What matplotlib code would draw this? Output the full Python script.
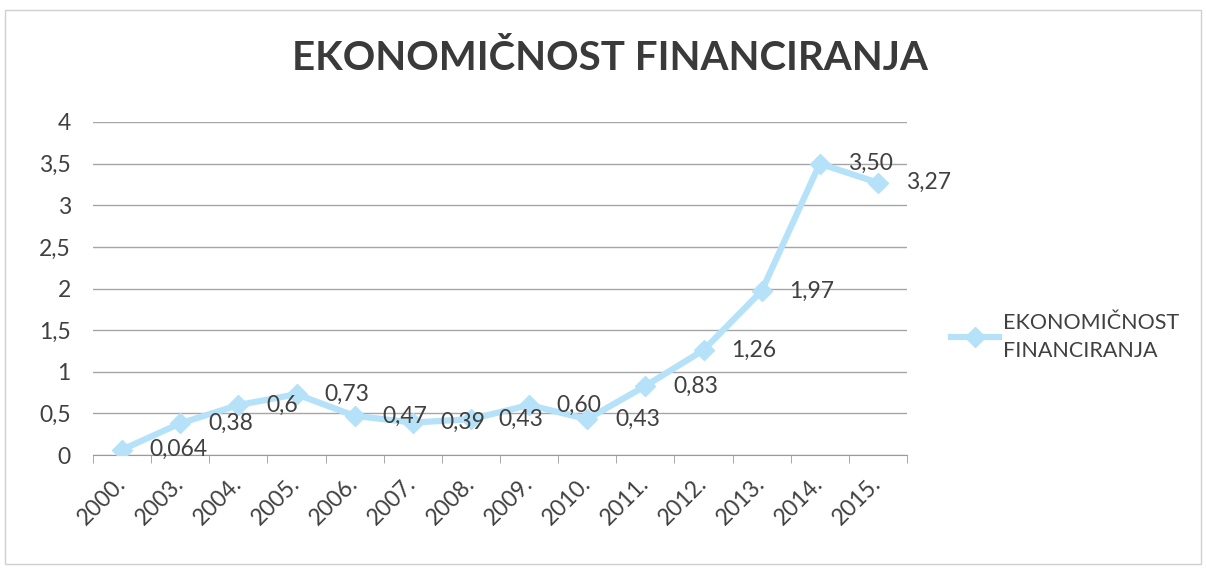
import matplotlib
matplotlib.use("Agg")
import matplotlib.pyplot as plt
from matplotlib.patches import Rectangle

# data
years = ['2000.', '2003.', '2004.', '2005.', '2006.', '2007.', '2008.',
         '2009.', '2010.', '2011.', '2012.', '2013.', '2014.', '2015.']
values = [0.064, 0.38, 0.6, 0.73, 0.47, 0.39, 0.43,
          0.60, 0.43, 0.83, 1.26, 1.97, 3.50, 3.27]
value_labels = ['0,064', '0,38', '0,6', '0,73', '0,47', '0,39', '0,43',
                '0,60', '0,43', '0,83', '1,26', '1,97', '3,50', '3,27']
y_ticks = [0, 0.5, 1, 1.5, 2, 2.5, 3, 3.5, 4]
y_tick_labels = ['0', '0,5', '1', '1,5', '2', '2,5', '3', '3,5', '4']
series_name = 'EKONOMIČNOST\nFINANCIRANJA'
title = 'EKONOMIČNOST FINANCIRANJA'

plt.rcParams['font.family'] = ['Lato', 'DejaVu Sans']
text_col = '#404040'
line_col = '#b5e2f8'

fig = plt.figure(figsize=(12.06, 5.70), dpi=100)
ax = fig.add_axes([93 / 1206, 1 - 455 / 570, (907 - 93) / 1206, (455 - 122) / 570])

x = list(range(len(years)))
ax.plot(x, values, color=line_col, lw=4.5, marker='D', ms=10,
        mec=line_col, mfc=line_col, label=series_name, zorder=3)

for xi, v, lab in zip(x, values, value_labels):
    ax.annotate(lab, (xi, v), xytext=(20, 0), textcoords='offset points',
                ha='left', va='center', fontsize=16.5, color=text_col, zorder=4)

ax.set_xlim(-0.5, len(years) - 0.5)
ax.set_ylim(0, 4)
ax.set_yticks(y_ticks)
ax.set_yticklabels(y_tick_labels, fontsize=16.5, color=text_col)
ax.set_xticks(x)
ax.set_xticklabels(years, fontsize=16.5, color=text_col, rotation=45,
                   ha='right', va='center', rotation_mode='anchor')
ax.tick_params(axis='x', which='major', length=0, pad=18)
ax.set_xticks([i - 0.5 for i in range(len(years) + 1)], minor=True)
ax.tick_params(axis='x', which='minor', length=6, color='#9a9a9a')
ax.tick_params(axis='y', length=0, pad=16)

ax.grid(axis='y', color='#a6a6a6', lw=1)
ax.set_axisbelow(True)
for s in ['top', 'right', 'left']:
    ax.spines[s].set_visible(False)
ax.spines['bottom'].set_color('#9a9a9a')

fig.text(0.506, 1 - 58 / 570, title, ha='center', va='center',
         fontsize=29, fontweight='bold', color='#3a3a3a')

leg = fig.legend(loc='center left', bbox_to_anchor=(932 / 1206, 1 - 337 / 570),
                 frameon=False, fontsize=15.5, handlelength=2.2, handletextpad=0.2,
                 labelcolor=text_col)
for t in leg.get_texts():
    t.set_linespacing(1.45)

# chart border
fig.patches.append(Rectangle((5 / 1206, 0.01), 1 - 10 / 1206, 1 - 10 / 570 - 0.01,
                             transform=fig.transFigure, fill=False,
                             ec='#d0d0d0', lw=1))

fig.savefig('out.png', dpi=100)
